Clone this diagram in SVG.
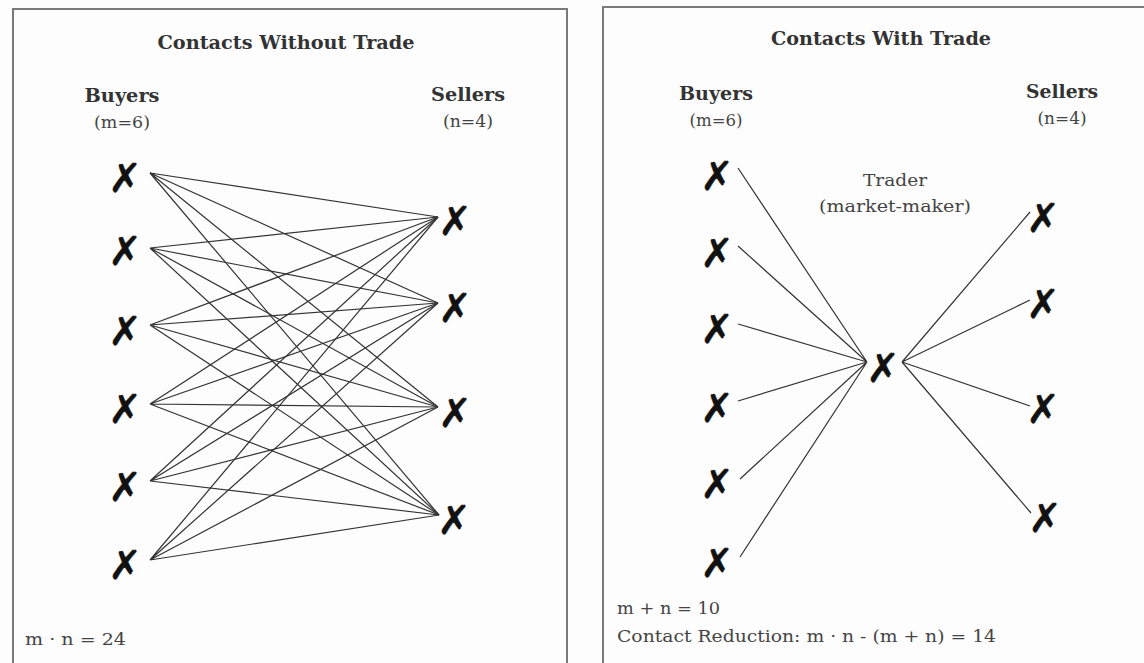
<svg xmlns="http://www.w3.org/2000/svg" width="1144" height="663" viewBox="0 0 1144 663">
<style>
.bg{fill:#fdfdfd}
.frame{fill:none;stroke:#7a7a7a;stroke-width:2}
.title{font-family:"DejaVu Serif","Liberation Serif",serif;font-weight:bold;font-size:18px;fill:#333;text-anchor:middle}
.head{font-family:"DejaVu Serif","Liberation Serif",serif;font-weight:bold;font-size:18px;fill:#333;text-anchor:middle}
.sub{font-family:"DejaVu Serif","Liberation Serif",serif;font-size:16px;fill:#444;text-anchor:middle}
.note{font-family:"DejaVu Serif","Liberation Serif",serif;font-size:17px;fill:#444}
.x{font-family:"DejaVu Sans",sans-serif;font-size:40px;fill:#111;stroke:#111;stroke-width:0.5;text-anchor:middle}
.c{stroke:#333;stroke-width:1.2;fill:none}
</style>
<rect class="bg" x="0" y="0" width="1144" height="663"/>
<rect class="frame" x="13" y="9" width="554" height="680"/>
<rect class="frame" x="603" y="7" width="560" height="680"/>

<g id="labels-left">
<text class="title" x="286" y="49" textLength="257" lengthAdjust="spacingAndGlyphs">Contacts Without Trade</text>
<text class="head" x="122" y="102" textLength="75" lengthAdjust="spacingAndGlyphs">Buyers</text>
<text class="sub" x="122" y="128" textLength="56" lengthAdjust="spacingAndGlyphs">(m=6)</text>
<text class="head" x="468" y="101" textLength="74" lengthAdjust="spacingAndGlyphs">Sellers</text>
<text class="sub" x="468" y="127" textLength="50" lengthAdjust="spacingAndGlyphs">(n=4)</text>
<text class="note" x="25" y="645" textLength="101" lengthAdjust="spacingAndGlyphs">m · n = 24</text>
</g>

<g id="labels-right">
<text class="title" x="881" y="45" textLength="220" lengthAdjust="spacingAndGlyphs">Contacts With Trade</text>
<text class="head" x="716" y="100" textLength="74" lengthAdjust="spacingAndGlyphs">Buyers</text>
<text class="sub" x="716" y="126" textLength="53" lengthAdjust="spacingAndGlyphs">(m=6)</text>
<text class="head" x="1062" y="98" textLength="72" lengthAdjust="spacingAndGlyphs">Sellers</text>
<text class="sub" x="1062" y="124" textLength="49" lengthAdjust="spacingAndGlyphs">(n=4)</text>
<text class="sub" x="895" y="186" textLength="64" lengthAdjust="spacingAndGlyphs">Trader</text>
<text class="sub" x="895" y="212" textLength="152" lengthAdjust="spacingAndGlyphs">(market-maker)</text>
<text class="note" x="617" y="614" textLength="103" lengthAdjust="spacingAndGlyphs">m + n = 10</text>
<text class="note" x="617" y="642" textLength="379" lengthAdjust="spacingAndGlyphs">Contact Reduction: m · n - (m + n) = 14</text>
</g>

<g id="connectors">
<g id="left-connectors">
<path class="c" d="M150 173L438 217M150 173L438 303M150 173L438 407M150 173L439 515"/>
<path class="c" d="M150 248L438 217M150 248L438 303M150 248L438 407M150 248L439 515"/>
<path class="c" d="M150 325L438 217M150 325L438 303M150 325L438 407M150 325L439 515"/>
<path class="c" d="M150 404L438 217M150 404L438 303M150 404L438 407M150 404L439 515"/>
<path class="c" d="M150 481L438 217M150 481L438 303M150 481L438 407M150 481L439 515"/>
<path class="c" d="M150 560L438 217M150 560L438 303M150 560L438 407M150 560L439 515"/>
</g>
<g id="right-connectors">
<path class="c" d="M738 168L867 362M738 246L867 362M738 324L867 362M738 401L867 362M740 479L867 362M740 557L867 362"/>
<path class="c" d="M902 362L1030 212M902 362L1030 300M902 362L1030 406M902 362L1031 513"/>
</g>
</g>

<g id="left-buyer-1"><text class="x" x="125" y="192">✗</text></g>
<g id="left-buyer-2"><text class="x" x="125" y="265">✗</text></g>
<g id="left-buyer-3"><text class="x" x="125" y="345">✗</text></g>
<g id="left-buyer-4"><text class="x" x="125" y="423">✗</text></g>
<g id="left-buyer-5"><text class="x" x="125" y="501">✗</text></g>
<g id="left-buyer-6"><text class="x" x="125" y="579">✗</text></g>
<g id="left-seller-1"><text class="x" x="455" y="235">✗</text></g>
<g id="left-seller-2"><text class="x" x="455" y="322">✗</text></g>
<g id="left-seller-3"><text class="x" x="455" y="427">✗</text></g>
<g id="left-seller-4"><text class="x" x="454" y="534">✗</text></g>

<g id="right-buyer-1"><text class="x" x="717" y="190">✗</text></g>
<g id="right-buyer-2"><text class="x" x="717" y="267">✗</text></g>
<g id="right-buyer-3"><text class="x" x="717" y="343">✗</text></g>
<g id="right-buyer-4"><text class="x" x="717" y="422">✗</text></g>
<g id="right-buyer-5"><text class="x" x="717" y="498">✗</text></g>
<g id="right-buyer-6"><text class="x" x="717" y="577">✗</text></g>
<g id="trader"><text class="x" x="883" y="382">✗</text></g>
<g id="right-seller-1"><text class="x" x="1043" y="232">✗</text></g>
<g id="right-seller-2"><text class="x" x="1043" y="318">✗</text></g>
<g id="right-seller-3"><text class="x" x="1043" y="423">✗</text></g>
<g id="right-seller-4"><text class="x" x="1045" y="532">✗</text></g>
</svg>
